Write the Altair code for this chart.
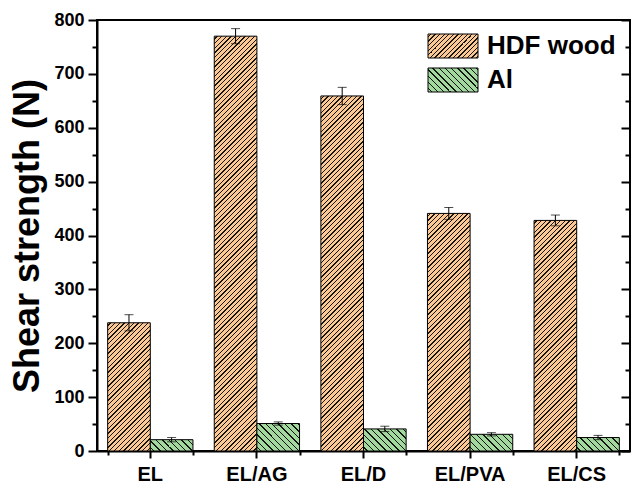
import altair as alt
import pandas as pd

# ---------------- data ----------------
categories = ["EL", "EL/AG", "EL/D", "EL/PVA", "EL/CS"]
series_names = ["HDF wood", "Al"]
hdf_values = [238, 770, 659, 441, 428]
hdf_errors = [15, 14, 16, 11, 10]
al_values = [21, 51, 41, 31, 25]
al_errors = [4, 3, 5, 3, 4]
y_ticks = [0, 100, 200, 300, 400, 500, 600, 700, 800]
y_minor = [50, 150, 250, 350, 450, 550, 650, 750]

# ---------------- style ----------------
FONT = "Liberation Sans"
ORANGE = "#FCC894"
GREEN = "#A3D99E"
PLOT_W, PLOT_H = 533, 431
Y_MAX = 800
PAD_IN, PAD_OUT = 0.2, 0.1
STEP = PLOT_W / (len(categories) - PAD_IN + 2 * PAD_OUT)
BAR_W = STEP * (1 - PAD_IN) / 2


def hatch(bg, w, h, period, direction, line_w=1.3, line_color="#151515"):
    """Linear gradient with hard stops that looks like 45-degree hatching."""
    L = w + h
    s = (w + h) / (w * w + h * h)
    if direction == "/":
        x1, y1, x2, y2 = 0, 0, w * s, h * s
    else:
        x1, y1, x2, y2 = 0, 1, w * s, 1 - h * s
    stops = [{"offset": 0, "color": bg}]
    pos = period * 0.5
    while pos < L:
        a = round(pos / L, 6)
        b = round(min((pos + line_w) / L, 1), 6)
        stops += [
            {"offset": a, "color": bg},
            {"offset": a, "color": line_color},
            {"offset": b, "color": line_color},
            {"offset": b, "color": bg},
        ]
        pos += period
    stops.append({"offset": 1, "color": bg})
    return {"gradient": "linear", "x1": round(x1, 6), "y1": round(y1, 6),
            "x2": round(x2, 6), "y2": round(y2, 6), "stops": stops}


def grad_expr(g):
    stops = ",".join("{offset:%s,color:'%s'}" % (s["offset"], s["color"]) for s in g["stops"])
    return "{gradient:'linear',x1:%s,y1:%s,x2:%s,y2:%s,stops:[%s]}" % (
        g["x1"], g["y1"], g["x2"], g["y2"], stops)


rows = []
for i, c in enumerate(categories):
    rows.append({"cat": c, "series": "HDF wood", "value": hdf_values[i],
                 "lo": hdf_values[i] - hdf_errors[i], "hi": hdf_values[i] + hdf_errors[i]})
    rows.append({"cat": c, "series": "Al", "value": al_values[i],
                 "lo": al_values[i] - al_errors[i], "hi": al_values[i] + al_errors[i]})
df = pd.DataFrame(rows)

conds = []
for i, c in enumerate(categories):
    conds.append({"test": f"datum.cat === '{c}' && datum.series === 'HDF wood'",
                  "value": hatch(ORANGE, BAR_W, hdf_values[i] * PLOT_H / Y_MAX, 4.7, "/")})
    conds.append({"test": f"datum.cat === '{c}' && datum.series === 'Al'",
                  "value": hatch(GREEN, BAR_W, al_values[i] * PLOT_H / Y_MAX, 6.4, "\\")})

LEG_SYM_W, LEG_SYM_H = 50, 24
leg_orange = hatch(ORANGE, LEG_SYM_W, LEG_SYM_H, 4.6, "/")
leg_green = hatch(GREEN, LEG_SYM_W, LEG_SYM_H, 6.2, "\\")

range_variants = [
    [{"expr": grad_expr(leg_orange)}, {"expr": grad_expr(leg_green)}],
    [ORANGE, GREEN],
]


def build(fill_range):
    yscale = alt.Scale(domain=[0, Y_MAX], nice=False, zero=True)
    xscale = alt.Scale(paddingInner=PAD_IN, paddingOuter=PAD_OUT)
    xoff = alt.XOffset("series:N", sort=series_names, scale=alt.Scale(domain=series_names))

    leg = alt.Legend(title=None, orient="none", legendX=343, legendY=13,
                     symbolType="M-2,-0.96H2V0.96H-2Z", symbolSize=625,
                     symbolStrokeColor="black", symbolStrokeWidth=1,
                     labelFontSize=26, labelFont=FONT, labelFontWeight="bold",
                     labelColor="black", labelOffset=21, rowPadding=6, padding=0,
                     labelLimit=400)

    bars = alt.Chart(df).mark_bar(stroke="black", strokeWidth=1).encode(
        x=alt.X("cat:N", sort=categories, scale=xscale,
                axis=alt.Axis(title=None, orient="bottom", labelAngle=0, labelFontSize=20,
                              labelFont=FONT, labelFontWeight="bold", labelColor="black",
                              tickSize=7, tickWidth=2, tickColor="black", domainWidth=2,
                              domainColor="black", labelPadding=6)),
        xOffset=xoff,
        y=alt.Y("value:Q", scale=yscale,
                axis=alt.Axis(orient="left", values=y_ticks, title="Shear strength (N)",
                              titleFontSize=36, titleFont=FONT, titleFontWeight="bold",
                              titleColor="black", titlePadding=7, labelFontSize=18,
                              labelFont=FONT, labelFontWeight="bold", labelColor="black",
                              tickSize=9, tickWidth=2, tickColor="black", domainWidth=2,
                              domainColor="black", labelPadding=4, grid=False)),
        fill=alt.Fill("series:N", sort=series_names,
                      scale=alt.Scale(domain=series_names, range=fill_range),
                      legend=leg, condition=conds),
    )

    err = alt.Chart(df).mark_rule(color="black", strokeWidth=1).encode(
        x=alt.X("cat:N", sort=categories, scale=xscale,
                axis=alt.Axis(orient="bottom", tickBand="extent", tickSize=4, tickWidth=2,
                              tickColor="black", labels=False, domain=False, title=None)),
        xOffset=xoff,
        y=alt.Y("lo:Q", scale=yscale,
                axis=alt.Axis(orient="left", values=y_minor, tickSize=5, tickWidth=2,
                              tickColor="black", labels=False, domain=False, title=None,
                              grid=False)),
        y2="hi:Q",
    )

    cap_hi = alt.Chart(df).mark_tick(color="black", thickness=1, size=9).encode(
        x=alt.X("cat:N", sort=categories, scale=xscale, axis=None),
        xOffset=xoff,
        y=alt.Y("hi:Q", scale=yscale,
                axis=alt.Axis(orient="right", values=y_ticks, tickSize=9, offset=-9,
                              tickWidth=2, tickColor="black", labels=False, domain=False,
                              title=None, grid=False)),
    )

    cap_lo = alt.Chart(df).mark_tick(color="black", thickness=1, size=9).encode(
        x=alt.X("cat:N", sort=categories, scale=xscale, axis=None),
        xOffset=xoff,
        y=alt.Y("lo:Q", scale=yscale,
                axis=alt.Axis(orient="right", values=y_minor, tickSize=5, offset=-5,
                              tickWidth=2, tickColor="black", labels=False, domain=False,
                              title=None, grid=False)),
    )

    ch = alt.layer(bars, err, cap_hi, cap_lo).resolve_axis(
        x="independent", y="independent"
    ).properties(
        width=PLOT_W, height=PLOT_H, autosize="none",
        padding={"left": 97, "top": 20, "right": 2, "bottom": 35},
        background="white",
    ).configure_view(stroke="black", strokeWidth=2)
    return ch


chart = None
for variant in range_variants:
    try:
        c = build(variant)
        c.to_dict()
        chart = c
        break
    except Exception:
        continue

chart.save("out.html", embed_options={"renderer": "svg", "actions": False})
